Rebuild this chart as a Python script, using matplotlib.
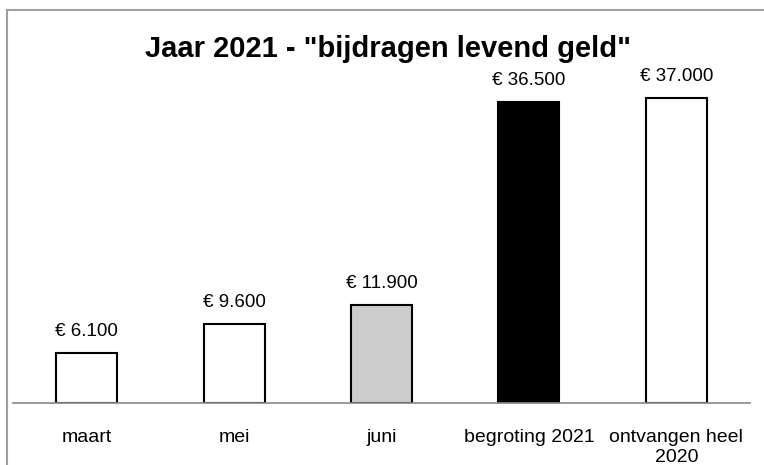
import matplotlib.pyplot as plt
from matplotlib.lines import Line2D

plt.rcParams['font.family'] = ['Liberation Sans', 'DejaVu Sans']

categories = ['maart', 'mei', 'juni', 'begroting 2021', 'ontvangen heel\n2020']
values = [6100, 9600, 11900, 36500, 37000]
labels = ['€ 6.100', '€ 9.600', '€ 11.900', '€ 36.500', '€ 37.000']
colors = ['white', 'white', '#cccccc', 'black', 'white']

fig = plt.figure(figsize=(7.64, 4.65), dpi=100)
ax = fig.add_axes([13 / 764, 62 / 465, 737 / 764, 330 / 465])

x = range(len(values))
bars = ax.bar(x, values, width=0.415, color=colors, edgecolor='black', linewidth=1.5, zorder=2)
for b, lab in zip(bars, labels):
    ax.annotate(lab, (b.get_x() + b.get_width() / 2, b.get_height()),
                xytext=(0, 9), textcoords='offset points',
                ha='center', va='bottom', fontsize=13.5)

ax.set_xlim(-0.5, 4.5)
ax.set_ylim(0, 40000)
ax.set_xticks(list(x))
ax.set_xticklabels(categories, fontsize=14, linespacing=1.2)
ax.tick_params(axis='x', length=0, pad=19)
ax.set_yticks([])
for s in ['top', 'right', 'left']:
    ax.spines[s].set_visible(False)
ax.spines['bottom'].set_color('#888888')
ax.spines['bottom'].set_linewidth(1.2)
ax.spines['bottom'].set_zorder(3)

fig.text(0.508, 0.895, 'Jaar 2021 - "bijdragen levend geld"', ha='center', va='center',
         fontsize=21, fontweight='bold')

# grijze rand rond de grafiek
fig.add_artist(Line2D([6.5 / 764, 6.5 / 764], [0, 1 - 10.5 / 465], color='#a0a0a0', lw=1.5, transform=fig.transFigure))
fig.add_artist(Line2D([6.5 / 764, 1], [1 - 10.5 / 465, 1 - 10.5 / 465], color='#a0a0a0', lw=1.5, transform=fig.transFigure))

plt.savefig('out.png', dpi=100)
